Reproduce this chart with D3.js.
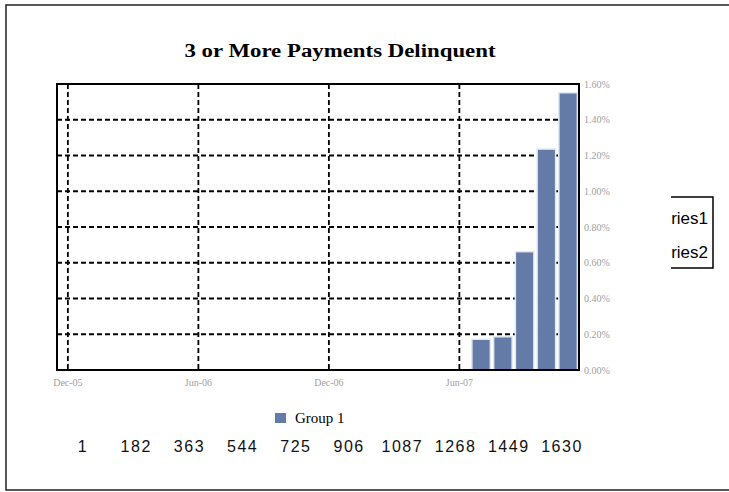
<!DOCTYPE html>
<html>
<head>
<meta charset="utf-8">
<script src="https://cdn.jsdelivr.net/npm/d3@7"></script>
<style>
  body { margin: 0; background: #fff; }
</style>
</head>
<body>
<div id="grafico"></div>
<script>
const WIDTH = 729;
const HEIGHT = 492;

// months on the time axis (one band each)
const months = ["Dec-05","Jan-06","Feb-06","Mar-06","Apr-06","May-06","Jun-06","Jul-06",
  "Aug-06","Sep-06","Oct-06","Nov-06","Dec-06","Jan-07","Feb-07","Mar-07","Apr-07",
  "May-07","Jun-07","Jul-07","Aug-07","Sep-07","Oct-07","Nov-07"];
const tickMonths = ["Dec-05","Jun-06","Dec-06","Jun-07"];

// Group 1 values (percent)
const barMonths = ["Jul-07","Aug-07","Sep-07","Oct-07","Nov-07"];
const barValues = [0.172, 0.186, 0.662, 1.236, 1.551];

const yTicks = [0, 0.2, 0.4, 0.6, 0.8, 1.0, 1.2, 1.4, 1.6];
const bottomLabels = ["1","182","363","544","725","906","1087","1268","1449","1630"];
const seriesNames = ["Series1","Series2"];

const barColor = "#637ba6";

let svg = d3.select("#grafico")
    .append("svg")
    .attr("width", WIDTH)
    .attr("height", HEIGHT);

// clipped series legend behind the chart area
let leg = svg.append("g");
leg.append("path")
    .attr("d", "M666,197H713V268H666")
    .style("fill", "none")
    .style("stroke", "#000")
    .style("stroke-width", 1.5);
leg.selectAll("text")
    .data(seriesNames)
    .enter()
    .append("text")
    .attr("x", 708)
    .attr("y", (d, i) => 224 + i * 34)
    .attr("text-anchor", "end")
    .style("font-family", "Liberation Sans, Arial, sans-serif")
    .style("font-size", "17px")
    .text(d => d);

// chart background covers the legend's left part
svg.append("rect")
    .attr("x", 6)
    .attr("y", 5)
    .attr("width", 665)
    .attr("height", 485)
    .style("fill", "#fff");

// outer frame (top, left, bottom)
svg.append("path")
    .attr("d", "M729,5H6V490H729")
    .style("fill", "none")
    .style("stroke", "#222")
    .style("stroke-width", 1.5);

svg.append("text")
    .attr("x", 340)
    .attr("y", 57)
    .attr("text-anchor", "middle")
    .attr("textLength", 311)
    .attr("lengthAdjust", "spacingAndGlyphs")
    .style("font-family", "Liberation Serif, Times New Roman, serif")
    .style("font-weight", "bold")
    .style("font-size", "18px")
    .text("3 or More Payments Delinquent");

const plotLeft = 57, plotRight = 579, plotTop = 84, plotBottom = 370;

let x = d3.scaleBand()
    .domain(months)
    .range([plotLeft, plotRight])
    .paddingInner(0.15)
    .paddingOuter(0.075);

let y = d3.scaleLinear()
    .domain([0, 1.6])
    .range([plotBottom, plotTop]);

let grid = svg.append("g")
    .style("stroke", "#000")
    .style("stroke-width", 1.8)
    .style("stroke-dasharray", "5,3");

grid.selectAll(".hgrid")
    .data(yTicks.filter(d => d > 0 && d < 1.6))
    .enter()
    .append("line")
    .attr("class", "hgrid")
    .attr("x1", plotLeft)
    .attr("x2", plotRight)
    .attr("y1", d => y(d))
    .attr("y2", d => y(d));

grid.selectAll(".vgrid")
    .data(tickMonths)
    .enter()
    .append("line")
    .attr("class", "vgrid")
    .attr("x1", d => x(d) + x.bandwidth() / 2)
    .attr("x2", d => x(d) + x.bandwidth() / 2)
    .attr("y1", plotTop)
    .attr("y2", plotBottom);

svg.selectAll(".bar")
    .data(barMonths)
    .enter()
    .append("rect")
    .attr("class", "bar")
    .attr("x", d => x(d))
    .attr("width", x.bandwidth())
    .attr("y", (d, i) => y(barValues[i]))
    .attr("height", (d, i) => y(0) - y(barValues[i]))
    .style("fill", barColor)
    .style("stroke", "#e4e8f0")
    .style("stroke-width", 1.5);

// plot frame
svg.append("rect")
    .attr("x", plotLeft)
    .attr("y", plotTop)
    .attr("width", plotRight - plotLeft)
    .attr("height", plotBottom - plotTop)
    .style("fill", "none")
    .style("stroke", "#000")
    .style("stroke-width", 2);

// right value axis
let yAxis = d3.axisRight(y)
    .tickValues(yTicks)
    .tickSize(0)
    .tickPadding(5)
    .tickFormat(d => d3.format(".2f")(d) + "%");
let gy = svg.append("g")
    .attr("transform", "translate(" + plotRight + ",0)")
    .call(yAxis);
gy.select(".domain").remove();
gy.selectAll("text")
    .style("font-family", "Liberation Serif, Times New Roman, serif")
    .style("font-size", "10px")
    .style("fill", "#a0a0a0");

// bottom time axis
let xAxis = d3.axisBottom(x)
    .tickValues(tickMonths)
    .tickSize(0)
    .tickPadding(9);
let gx = svg.append("g")
    .attr("transform", "translate(0," + plotBottom + ")")
    .call(xAxis);
gx.select(".domain").remove();
gx.selectAll("text")
    .style("font-family", "Liberation Serif, Times New Roman, serif")
    .style("font-size", "10px")
    .style("fill", "#a0a0a0");

// legend
svg.append("rect")
    .attr("x", 275)
    .attr("y", 413)
    .attr("width", 11)
    .attr("height", 10)
    .style("fill", barColor);
svg.append("text")
    .attr("x", 295)
    .attr("y", 423)
    .style("font-family", "Liberation Serif, Times New Roman, serif")
    .style("font-size", "15px")
    .text("Group 1");

// stray numeric axis under the legend
let n = d3.scalePoint()
    .domain(bottomLabels)
    .range([83, 562]);
svg.selectAll(".num")
    .data(bottomLabels)
    .enter()
    .append("text")
    .attr("class", "num")
    .attr("x", d => n(d))
    .attr("y", 452)
    .attr("text-anchor", "middle")
    .style("font-family", "Liberation Sans, Arial, sans-serif")
    .style("font-size", "16px")
    .style("letter-spacing", "1.5px")
    .style("fill", "#111")
    .text(d => d);
</script>
</body>
</html>
